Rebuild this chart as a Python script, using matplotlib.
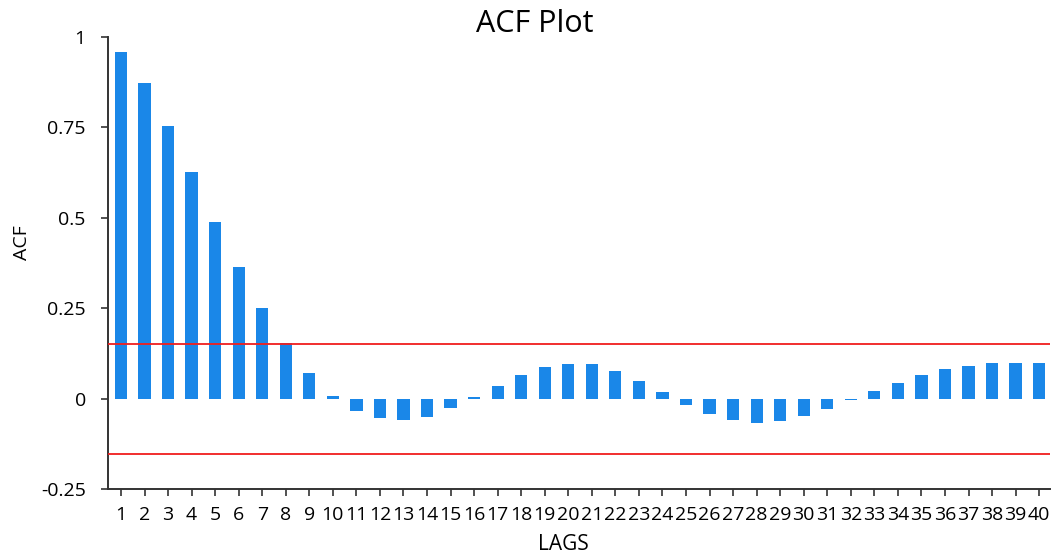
import numpy as np
import matplotlib
matplotlib.use('Agg')
import matplotlib.pyplot as plt

matplotlib.rcParams['font.family'] = ['Open Sans', 'DejaVu Sans']

# 数据
lags = list(range(1, 41))
acf_values = [0.959, 0.874, 0.753, 0.626, 0.489, 0.365, 0.250, 0.154, 0.071, 0.007,
              -0.033, -0.055, -0.060, -0.052, -0.026, 0.003, 0.035, 0.064, 0.086, 0.095,
              0.095, 0.077, 0.048, 0.018, -0.017, -0.042, -0.059, -0.068, -0.063, -0.047,
              -0.029, -0.004, 0.022, 0.043, 0.064, 0.082, 0.090, 0.099, 0.099, 0.099]
conf_bound = 0.152
y_ticks = [-0.25, 0, 0.25, 0.5, 0.75, 1]
y_tick_labels = ['-0.25', '0', '0.25', '0.5', '0.75', '1']

fig = plt.figure(figsize=(10.55, 5.58), dpi=100)
ax = fig.add_axes([0.1024, 0.1237, 0.8926, 0.8100])

ax.bar(lags, acf_values, width=0.52, color='#1A87E8', zorder=2)
ax.axhline(conf_bound, color='#F01E1E', lw=1.3, zorder=3)
ax.axhline(-conf_bound, color='#F01E1E', lw=1.3, zorder=3)

ax.set_xlim(0.45, 40.45)
ax.set_ylim(-0.25, 1)
ax.set_xticks(lags)
ax.set_xticklabels([str(l) for l in lags], fontsize=14)
ax.set_yticks(y_ticks)
ax.set_yticklabels(y_tick_labels, fontsize=14)

for side in ['top', 'right']:
    ax.spines[side].set_visible(False)
for side in ['left', 'bottom']:
    ax.spines[side].set_color('#333333')
    ax.spines[side].set_linewidth(1.4)
ax.tick_params(axis='y', length=5, width=1.2, color='#333333', pad=11)
ax.tick_params(axis='x', length=5, width=1.2, color='#333333', pad=7)

fig.text(0.507, 1 - 24 / 558, 'ACF Plot', ha='center', va='center', fontsize=22)
fig.text(0.021, 1 - 243 / 558, 'ACF', ha='center', va='center', rotation=90, fontsize=14)
fig.text(0.534, 1 - 545 / 558, 'LAGS', ha='center', va='center', fontsize=15)

plt.savefig('out.png', dpi=100)
